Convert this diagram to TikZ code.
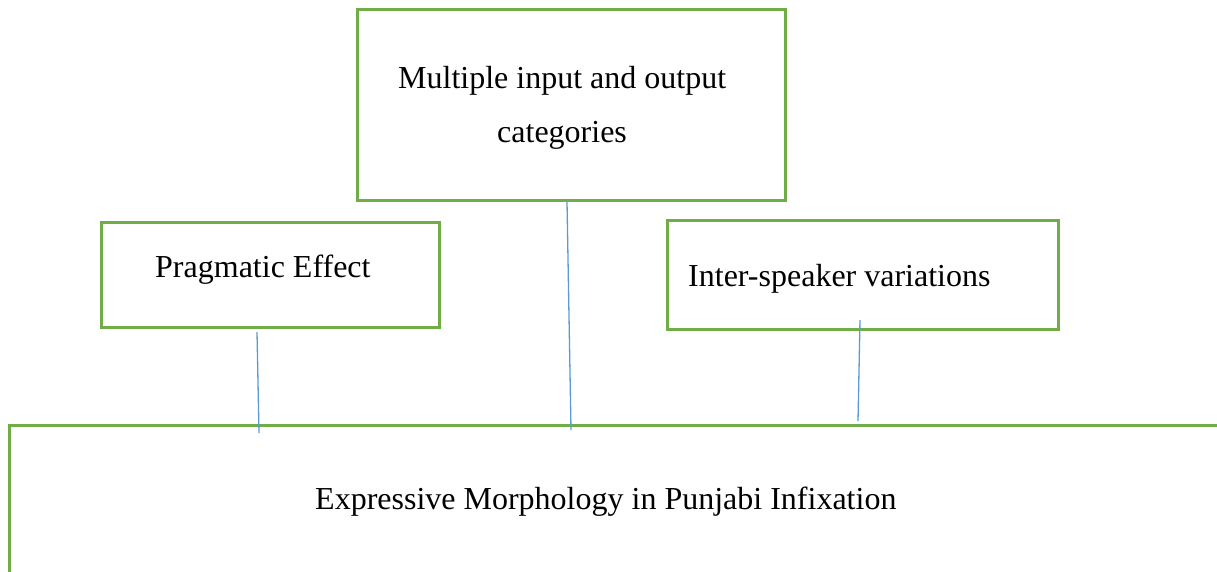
\documentclass[tikz,border=0pt]{standalone}
\usepackage{fontspec}
\setmainfont{Liberation Serif}
\usetikzlibrary{calc}

\definecolor{boxgreen}{HTML}{70AD47}
\definecolor{linkblue}{HTML}{5B9BD5}

\begin{document}
\begin{tikzpicture}[x=1pt,y=-1pt,
	box/.style={draw=boxgreen, line width=3pt, rectangle, inner sep=0pt, outer sep=0pt},
	link/.style={draw=linkblue, line width=1.3pt},
	lbl/.style={anchor=base west, inner sep=0pt, font=\fontsize{32}{38}\selectfont}]
			%%%%% START %%%%%
			
			\useasboundingbox (0, 0) rectangle (1217, 571);
			\clip (0, 0) rectangle (1217, 571);
			
			\node[box, minimum width=428pt, minimum height=191pt] (inout) at (571, 104.5) {};
			\node[lbl] (inoutA) at (398, 88) {Multiple input and output};
			\node[lbl] (inoutB) at (497, 142) {categories};
			
			\node[box, minimum width=338pt, minimum height=105pt] (prag) at (270, 274.5) {};
			\node[lbl] (pragtxt) at (155, 277) {Pragmatic Effect};
			
			\node[box, minimum width=391pt, minimum height=109pt] (inter) at (862.5, 274.5) {};
			\node[lbl] (intertxt) at (688, 286) {Inter-speaker variations};
			
			\node[box, minimum width=1231pt, minimum height=175pt] (main) at (624.5, 512.5) {};
			\node[lbl] (maintxt) at (315, 509) {Expressive Morphology in Punjabi Infixation};
			
			\draw[link] ($(prag.south)+(-13, 5)$) -- ($(main.north)+(-365.5, 8)$);
			\draw[link] ($(inout.south)+(-4, 2)$) -- ($(main.north)+(-53.5, 5)$);
			\draw[link] ($(inter.south)+(-2.5, -9)$) -- ($(main.north)+(233.5, -4)$);
			
			%%%%% END %%%%%
\end{tikzpicture}
\end{document}
